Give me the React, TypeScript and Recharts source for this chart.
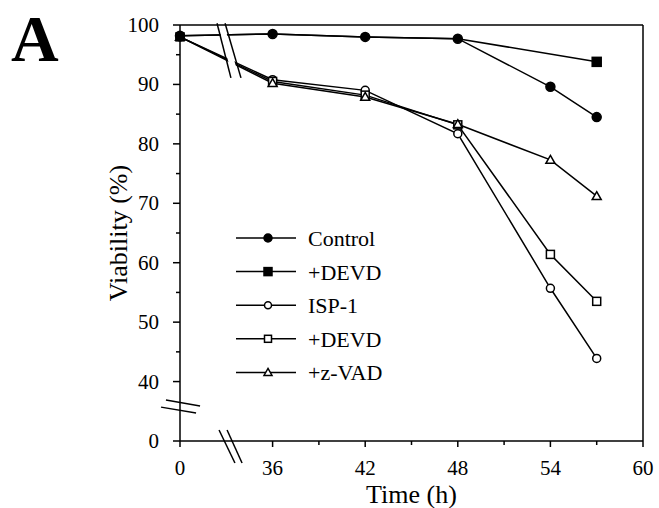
import React from "react";
import { LineChart, Line, XAxis, YAxis, ReferenceLine } from "recharts";

// time points (h) and viability (%)
const hours = [0, 36, 42, 48, 54, 57];
const control = [98.2, 98.5, 98.0, 97.7, 89.6, 84.5];
const controlDevd = [98.2, 98.5, 98.0, 97.7, null, 93.8];
const isp1 = [98.0, 90.8, 89.0, 81.7, 55.7, 43.9];
const isp1Devd = [98.0, 90.5, 88.2, 83.2, 61.4, 53.5];
const isp1Zvad = [98.0, 90.2, 87.9, 83.3, 77.3, 71.2];

const xMajorHours = [0, 36, 42, 48, 54, 60];
const xMinorHours = [39, 45, 51, 57];
const yMajorValues = [0, 40, 50, 60, 70, 80, 90, 100];
const yMinorValues = [45, 55, 65, 75, 85, 95];

const FONT = "'Liberation Serif', 'Times New Roman', serif";

// broken axes: 0 h sits one step left of 36 h, 0 % one step below 40 %
const xPos = (h: number) => (h === 0 ? 0 : h - 30);
const yPos = (v: number) => (v === 0 ? 30 : v);
const xHour = (p: number) => (p === 0 ? 0 : p + 30);

type Shape = "dot" | "square" | "ring" | "box" | "triangle";

// markFrom: first point that gets a marker (the +DEVD control points sit under the control dots)
const series: { key: string; name: string; shape: Shape; values: (number | null)[]; markFrom: number }[] = [
  { key: "isp1", name: "ISP-1", shape: "ring", values: isp1, markFrom: 0 },
  { key: "isp1Devd", name: "+DEVD", shape: "box", values: isp1Devd, markFrom: 0 },
  { key: "isp1Zvad", name: "+z-VAD", shape: "triangle", values: isp1Zvad, markFrom: 0 },
  { key: "controlDevd", name: "+DEVD", shape: "square", values: controlDevd, markFrom: 4 },
  { key: "control", name: "Control", shape: "dot", values: control, markFrom: 0 },
];

const legendOrder = ["control", "controlDevd", "isp1", "isp1Devd", "isp1Zvad"];

const rows = hours.map((h, i) => {
  const row: Record<string, number | null> = { x: xPos(h) };
  series.forEach((s) => (row[s.key] = s.values[i]));
  return row;
});

function Marker({ cx, cy, shape, s = 4.5 }: { cx: number; cy: number; shape: Shape; s?: number }) {
  const sw = 1.5;
  switch (shape) {
    case "dot":
      return <circle cx={cx} cy={cy} r={s} fill="#000" stroke="#000" strokeWidth={sw} />;
    case "square":
      return <rect x={cx - s} y={cy - s} width={s * 2} height={s * 2} fill="#000" stroke="#000" strokeWidth={sw} />;
    case "ring":
      return <circle cx={cx} cy={cy} r={s - 0.5} fill="#fff" stroke="#000" strokeWidth={sw} />;
    case "box":
      return <rect x={cx - s + 0.5} y={cy - s + 0.5} width={s * 2 - 1} height={s * 2 - 1} fill="#fff" stroke="#000" strokeWidth={sw} />;
    default:
      return (
        <polygon
          points={`${cx},${cy - s} ${cx + s},${cy + s * 0.75} ${cx - s},${cy + s * 0.75}`}
          fill="#fff"
          stroke="#000"
          strokeWidth={sw}
        />
      );
  }
}

const renderDot = (shape: Shape, key: string, markFrom: number) => (p: any) => {
  if (p.cx == null || p.cy == null || p.value == null || p.index < markFrom)
    return <g key={`${key}-${p.index}`} />;
  return (
    <g key={`${key}-${p.index}`}>
      <Marker cx={p.cx} cy={p.cy} shape={shape} />
    </g>
  );
};

const XTick = ({ x, y, payload }: any) => {
  const major = xMajorHours.map(xPos).includes(payload.value);
  return (
    <g>
      <line x1={x} x2={x} y1={y} y2={y + (major ? 6 : 4)} stroke="#000" strokeWidth={1.5} />
      {major && (
        <text x={x} y={y + 34} textAnchor="middle" fontSize={21} fontFamily={FONT} fill="#000">
          {xHour(payload.value)}
        </text>
      )}
    </g>
  );
};

const YTick = ({ x, y, payload }: any) => {
  const major = yMajorValues.map(yPos).includes(payload.value);
  return (
    <g>
      <line x1={x - (major ? 7 : 4)} x2={x} y1={y} y2={y} stroke="#000" strokeWidth={1.5} />
      {major && (
        <text x={x - 21} y={y + 7} textAnchor="end" fontSize={21} fontFamily={FONT} fill="#000">
          {payload.value === 30 ? 0 : payload.value}
        </text>
      )}
    </g>
  );
};

// axis-break slashes, in data units
const breakLines = [
  [{ x: 2.4, y: 100.3 }, { x: 3.3, y: 91.1 }],
  [{ x: 2.92, y: 100.3 }, { x: 3.95, y: 91.1 }],
  [{ x: 2.53, y: 31.85 }, { x: 3.56, y: 26.3 }],
  [{ x: 3.05, y: 31.85 }, { x: 4.02, y: 26.3 }],
  [{ x: -0.91, y: 36.9 }, { x: 1.3, y: 35.9 }],
  [{ x: -1.23, y: 35.7 }, { x: 1.04, y: 34.7 }],
];
const breakGaps = [
  { segment: [{ x: 2.72, y: 99.5 }, { x: 3.63, y: 91.1 }], w: 6 },
  { segment: [{ x: 2.98, y: 30 }, { x: 3.27, y: 30 }], w: 3 },
  { segment: [{ x: 0, y: 36.2 }, { x: 0, y: 35.4 }], w: 3 },
];

export default function App() {
  return (
    <div style={{ position: "absolute", left: 0, top: 0, width: 659, height: 508, background: "#fff" }}>
      <LineChart width={659} height={508} data={rows} margin={{ top: 25, right: 16, bottom: 0, left: 0 }}>
        <XAxis
          type="number"
          dataKey="x"
          domain={[0, 30]}
          ticks={[...xMajorHours, ...xMinorHours].map(xPos).sort((a, b) => a - b)}
          tick={<XTick />}
          tickLine={false}
          tickSize={0}
          tickMargin={0}
          height={67}
          axisLine={{ stroke: "#000", strokeWidth: 1.5 }}
          label={{ value: "Time (h)", position: "insideBottom", offset: 5, fontSize: 26, fill: "#000", fontFamily: FONT }}
        />
        <YAxis
          type="number"
          domain={[30, 100]}
          ticks={[...yMajorValues, ...yMinorValues].map(yPos).sort((a, b) => a - b)}
          tick={<YTick />}
          tickLine={false}
          tickSize={0}
          tickMargin={0}
          width={180}
          axisLine={{ stroke: "#000", strokeWidth: 1.5 }}
          label={{
            content: ({ viewBox }: any) => {
              const cy = viewBox.y + viewBox.height / 2;
              return (
                <text
                  x={118}
                  y={cy}
                  transform={`rotate(-90 118 ${cy})`}
                  textAnchor="middle"
                  dominantBaseline="central"
                  fontSize={26}
                  fontFamily={FONT}
                  fill="#000"
                >
                  Viability (%)
                </text>
              );
            },
          }}
        />
        <ReferenceLine y={100} stroke="#000" strokeWidth={1.5} />
        <ReferenceLine x={30} stroke="#000" strokeWidth={1.5} />
        {series.map((s) => (
          <Line
            key={s.key}
            dataKey={s.key}
            name={s.name}
            type="linear"
            stroke="#000"
            strokeWidth={1.5}
            connectNulls
            dot={renderDot(s.shape, s.key, s.markFrom)}
            activeDot={false}
            isAnimationActive={false}
          />
        ))}
        {breakGaps.map((b, i) => (
          <ReferenceLine key={`gap${i}`} segment={b.segment} stroke="#fff" strokeWidth={b.w} ifOverflow="visible" />
        ))}
        {breakLines.map((seg, i) => (
          <ReferenceLine key={`brk${i}`} segment={seg} stroke="#000" strokeWidth={1.5} ifOverflow="visible" />
        ))}
      </LineChart>
      <svg width={659} height={508} style={{ position: "absolute", left: 0, top: 0, pointerEvents: "none" }}>
        <text x={11} y={61} fontSize={66} fontWeight="bold" fontFamily={FONT} fill="#000">
          A
        </text>
        {legendOrder.map((k, i) => {
          const s = series.find((d) => d.key === k)!;
          const y = 238 + i * 33.6;
          return (
            <g key={k}>
              <line x1={236} x2={296} y1={y} y2={y} stroke="#000" strokeWidth={1.5} />
              <Marker cx={268} cy={y} shape={s.shape} s={4} />
              <text x={308} y={y + 8} fontSize={22} fontFamily={FONT} fill="#000">
                {s.name}
              </text>
            </g>
          );
        })}
      </svg>
    </div>
  );
}
